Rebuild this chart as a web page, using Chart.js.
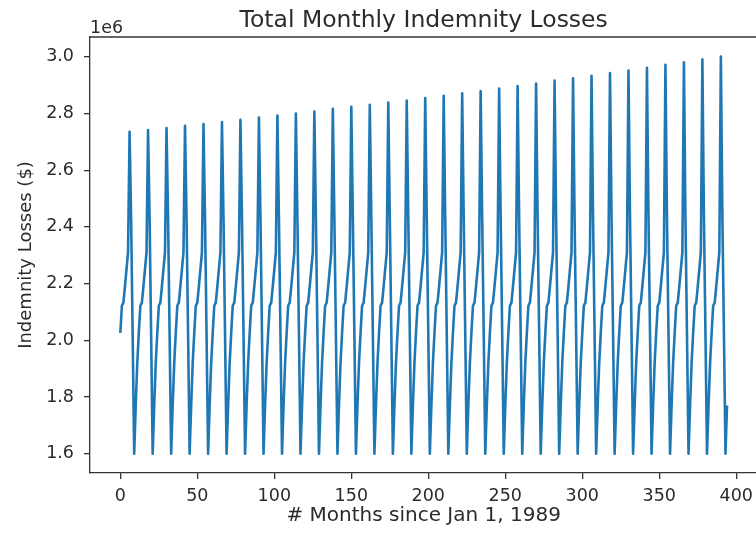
<!DOCTYPE html>
<html>
<head>
<meta charset="utf-8">
<script src="https://cdn.jsdelivr.net/npm/chart.js@4/dist/chart.umd.min.js"></script>
<style>
  html, body { margin: 0; padding: 0; background: #fff; overflow: hidden; }
  #wrap { width: 756px; height: 539px; overflow: hidden; position: relative; }
  canvas { display: block; }
</style>
</head>
<body>
<div id="wrap"><canvas id="lossChart" width="760" height="539"></canvas></div>
<script>
// Monthly indemnity losses (dollars), one point per month starting Jan 1989
const monthCount = 395;
const janToJunLosses = [2026000, 2122000, 2133000, 2190000, 2250000, 2310000];
const julyPeakLosses = [
  2736000, 2742000, 2749000, 2757000, 2763000, 2770000, 2778000, 2786000,
  2793000, 2800000, 2807000, 2817000, 2824000, 2831000, 2839000, 2846000,
  2855000, 2863000, 2871000, 2879000, 2888000, 2897000, 2906000, 2916000,
  2924000, 2933000, 2943000, 2952000, 2961000, 2972000, 2981000, 2991000,
  3001000
];
const augToDecLosses = [2430000, 2020000, 1600000, 1770000, 1920000];

const xTickValues = [0, 50, 100, 150, 200, 250, 300, 350, 400];
const yTickValues = [1600000, 1800000, 2000000, 2200000, 2400000, 2600000, 2800000, 3000000];

const chartTitle = 'Total Monthly Indemnity Losses';
const xAxisTitle = '# Months since Jan 1, 1989';
const yAxisTitle = 'Indemnity Losses ($)';
const yOffsetText = '1e6';

// Assemble the monthly series from the seasonal pieces
const lossPoints = [];
for (let m = 0; m < monthCount; m++) {
  const year = Math.floor(m / 12);
  const month = m % 12;
  let value;
  if (month < 6) value = janToJunLosses[month];
  else if (month === 6) value = julyPeakLosses[year];
  else value = augToDecLosses[month - 7];
  lossPoints.push({ x: m, y: value });
}

const TEXT_COLOR = '#2b2b2b';
const SPINE_COLOR = '#333333';
const FONT = '"DejaVu Sans", sans-serif';

// Title, offset label, axis titles and the top spine
const decorations = {
  id: 'decorations',
  afterDraw(chart) {
    const { ctx, chartArea } = chart;
    ctx.save();
    ctx.strokeStyle = SPINE_COLOR;
    ctx.lineWidth = 1.3;
    ctx.beginPath();
    ctx.moveTo(chartArea.left, chartArea.top);
    ctx.lineTo(chartArea.right, chartArea.top);
    ctx.stroke();

    const cx = (chartArea.left + chartArea.right) / 2;
    ctx.fillStyle = TEXT_COLOR;
    ctx.textBaseline = 'alphabetic';

    ctx.font = '23.5px ' + FONT;
    ctx.textAlign = 'center';
    ctx.fillText(chartTitle, cx, 26.5);

    ctx.font = '17.5px ' + FONT;
    ctx.textAlign = 'left';
    ctx.fillText(yOffsetText, chartArea.left, 32.5);

    ctx.font = '20px ' + FONT;
    ctx.textAlign = 'center';
    ctx.fillText(xAxisTitle, cx, 521);

    ctx.font = '18px ' + FONT;
    ctx.translate(31, (chartArea.top + chartArea.bottom) / 2);
    ctx.rotate(-Math.PI / 2);
    ctx.fillText(yAxisTitle, 0, 0);
    ctx.restore();
  }
};

const tickFont = { family: FONT, size: 17.5 };

new Chart(document.getElementById('lossChart'), {
  type: 'line',
  data: {
    datasets: [{
      data: lossPoints,
      borderColor: '#1f77b4',
      borderWidth: 2.6,
      pointRadius: 0,
      tension: 0,
      fill: false,
      borderJoinStyle: 'round',
      borderCapStyle: 'butt'
    }]
  },
  options: {
    responsive: false,
    animation: false,
    devicePixelRatio: 1,
    events: [],
    layout: { padding: { top: 37, right: 1, left: 0, bottom: 0 } },
    plugins: {
      legend: { display: false },
      tooltip: { enabled: false },
      title: { display: false }
    },
    scales: {
      x: {
        type: 'linear',
        min: -19.7,
        max: 413.7,
        afterFit: s => { s.height = 66; },
        afterBuildTicks: s => { s.ticks = xTickValues.map(v => ({ value: v })); },
        grid: { display: true, drawOnChartArea: false, drawTicks: true, tickLength: 6, color: SPINE_COLOR, lineWidth: 1.3 },
        border: { display: true, color: SPINE_COLOR, width: 1.3 },
        ticks: {
          color: TEXT_COLOR, font: tickFont, padding: 7,
          maxRotation: 0, autoSkip: false,
          callback: v => String(v)
        }
      },
      y: {
        type: 'linear',
        min: 1532000,
        max: 3070000,
        afterFit: s => { s.width = 90; },
        afterBuildTicks: s => { s.ticks = yTickValues.map(v => ({ value: v })); },
        grid: { display: true, drawOnChartArea: false, drawTicks: true, tickLength: 6, color: SPINE_COLOR, lineWidth: 1.3 },
        border: { display: true, color: SPINE_COLOR, width: 1.3 },
        ticks: {
          color: TEXT_COLOR, font: tickFont, padding: 10,
          autoSkip: false,
          callback: v => (v / 1e6).toFixed(1)
        }
      }
    }
  },
  plugins: [decorations]
});
</script>
</body>
</html>
